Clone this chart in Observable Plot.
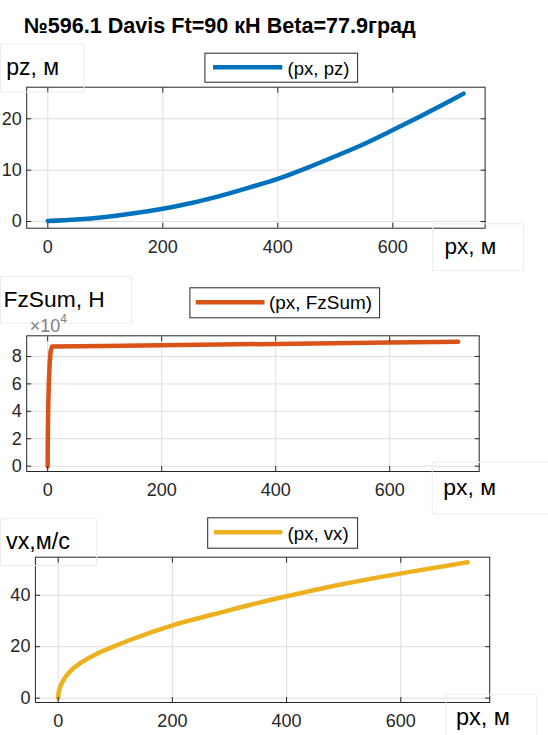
<!DOCTYPE html>
<html><head><meta charset="utf-8">
<script src="https://cdn.jsdelivr.net/npm/d3@7"></script>
<script src="https://cdn.jsdelivr.net/npm/@observablehq/plot@0.6"></script>
<style>
body{margin:0;background:#fff;}
#wrap{position:relative;width:548px;height:735px;overflow:hidden;background:#fff;font-family:"Liberation Sans",Arial,sans-serif;}
#wrap .pl{position:absolute;left:0;}
#overlay{position:absolute;left:0;top:0;pointer-events:none;}
</style></head><body><div id="wrap"></div>
<script>
// ---- data ----
const titleText = "№596.1 Davis Ft=90 кН Beta=77.9град";
const xTicks = [0, 200, 400, 600];

const pzPx  = [0, 50, 100, 150, 200, 250, 300, 350, 400, 450, 500, 550, 600, 650, 700, 723];
const pzVal = [0.1, 0.4, 0.9, 1.6, 2.5, 3.6, 5.0, 6.6, 8.3, 10.4, 12.7, 15.1, 17.8, 20.6, 23.5, 24.9];
const pzTicks = [0, 10, 20];

const fzPx  = [0, 0.2, 0.8, 2.0, 3.5, 5.2, 7.7, 100, 200, 300, 400, 500, 600, 720];
const fzVal = [0, 20000, 40000, 60000, 75000, 84000, 87300, 87700, 88200, 88700, 89200, 89700, 90200, 90800];
const fzTicks = [0, 20000, 40000, 60000, 80000];

const vxPx  = [0, 0.5, 2, 5, 10, 20, 40, 69, 100, 127, 203, 273, 337, 400, 495, 603, 717];
const vxVal = [0, 1.5, 3.2, 5.2, 7.3, 10.2, 13.8, 17.4, 20.3, 22.7, 28.5, 32.6, 36.3, 39.6, 44.2, 48.6, 52.8];
const vxTicks = [0, 20, 40];

const seriesNames = ["(px, pz)", "(px, FzSum)", "(px, vx)"];
const yLabels = ["pz, м", "FzSum, Н", "vx,м/с"];
const xLabel = "px, м";
const colors = ["#0072BD", "#D95319", "#EDB120"];

const FONT = '"Liberation Sans", Arial, sans-serif';
const wrap = document.getElementById("wrap");

function panel(o) {
  const data = o.xs.map((x, i) => ({x, y: o.ys[i]}));
  const axisCol = "#262626";
  const p = Plot.plot({
    width: 548, height: o.height,
    marginTop: o.mt, marginBottom: o.mb, marginLeft: o.ml, marginRight: o.mr,
    style: {fontFamily: FONT, fontSize: "18px", color: axisCol, background: "transparent", overflow: "visible"},
    x: {domain: o.xDomain, label: null},
    y: {domain: o.yDomain, label: null},
    marks: [
      Plot.gridX(xTicks, {stroke: "#dedede", strokeOpacity: 1}),
      Plot.gridY(o.yTicks, {stroke: "#dedede", strokeOpacity: 1}),
      Plot.line(data, {x: "x", y: "y", stroke: o.color, strokeWidth: 4.5, curve: o.curve}),
      Plot.frame({stroke: axisCol}),
      Plot.axisX(xTicks, {anchor: "bottom", tickSize: 5, insetBottom: 5, tickPadding: 12, label: null, fill: axisCol}),
      Plot.axisX(xTicks, {anchor: "top", tickSize: 5, insetTop: 5, tickFormat: () => "", label: null}),
      Plot.axisY(o.yTicks, {anchor: "left", tickSize: 5, insetLeft: 5, tickPadding: 5, tickFormat: o.yFmt, label: null, fill: axisCol}),
      Plot.axisY(o.yTicks, {anchor: "right", tickSize: 5, insetRight: 5, tickFormat: () => "", label: null})
    ]
  });
  p.classList.add("pl");
  p.style.top = o.top + "px";
  wrap.appendChild(p);
}

panel({top: 76, height: 185, mt: 10.7, mb: 33.3, ml: 26.2, mr: 63.4,
  xDomain: [-36.7, 760.5], yDomain: [-1.3, 26.15], yTicks: pzTicks, yFmt: d => d,
  xs: pzPx, ys: pzVal, color: colors[0], curve: "monotone-x"});
panel({top: 325, height: 180, mt: 10.3, mb: 34, ml: 26.2, mr: 69.3,
  xDomain: [-36.8, 757], yDomain: [-3900, 95100], yTicks: fzTicks, yFmt: d => d / 10000,
  xs: fzPx, ys: fzVal, color: colors[1], curve: "linear"});
panel({top: 546, height: 189, mt: 10.7, mb: 33, ml: 34.9, mr: 58.8,
  xDomain: [-39.9, 755.7], yDomain: [-1.7, 54.8], yTicks: vxTicks, yFmt: d => d,
  xs: vxPx, ys: vxVal, color: colors[2], curve: "monotone-x"});

// ---- overlay: title, labels, legends ----
const ov = d3.select(wrap).append("svg").attr("id", "overlay")
  .attr("width", 548).attr("height", 735)
  .style("font-family", FONT);

function fitText(sel, target, size) {
  const w = sel.node().getComputedTextLength();
  let s = w > 0 ? size * target / w : size;
  s = Math.max(size * 0.85, Math.min(size * 1.15, s));
  sel.attr("font-size", s);
  sel.attr("textLength", target).attr("lengthAdjust", "spacingAndGlyphs");
}

const title = ov.append("text").attr("x", 23.8).attr("y", 33)
  .attr("font-size", 20).attr("font-weight", "bold").attr("fill", "#000").text(titleText);
fitText(title, 392, 20);

const boxes = [
  {x: 0, y: 43.5, w: 83.5, h: 48.2, t: yLabels[0], tx: 6.2, ty: 75, tw: 53},
  {x: 432.2, y: 223.3, w: 90.8, h: 46.7, t: xLabel, tx: 444.4, ty: 254, tw: 51.8},
  {x: 0, y: 276, w: 131, h: 46.7, t: yLabels[1], tx: 3.5, ty: 306.7, tw: 101.3},
  {x: 431.7, y: 461.7, w: 120, h: 51.6, t: xLabel, tx: 443.3, ty: 494.5, tw: 52.7},
  {x: 0, y: 518.3, w: 96.2, h: 46.7, t: yLabels[2], tx: 6, ty: 549.3, tw: 64},
  {x: 445.5, y: 694.3, w: 90.8, h: 50, t: xLabel, tx: 456, ty: 725, tw: 54}
];
for (const b of boxes) {
  ov.append("rect").attr("x", b.x + 0.5).attr("y", b.y + 0.5).attr("width", b.w).attr("height", b.h)
    .attr("fill", "none").attr("stroke", "#ededed");
  const t = ov.append("text").attr("x", b.tx).attr("y", b.ty).attr("font-size", 22.5).attr("fill", "#000").text(b.t);
  fitText(t, b.tw, 22.5);
}

const legends = [
  {x: 204.4, y: 52.7, w: 152.7, h: 29, lx1: 213, lx2: 282.3, ly: 67.3, tx: 287.6, ty: 74.5, tw: 61.8},
  {x: 189.4, y: 287.3, w: 189.7, h: 30, lx1: 195.7, lx2: 264.5, ly: 302.3, tx: 269, ty: 308.9, tw: 103},
  {x: 207.2, y: 517.3, w: 149.9, h: 30.4, lx1: 213.8, lx2: 282.3, ly: 532.3, tx: 287.6, ty: 539.5, tw: 61}
];
legends.forEach((l, i) => {
  ov.append("rect").attr("x", l.x + 0.5).attr("y", l.y + 0.5).attr("width", l.w).attr("height", l.h)
    .attr("fill", "#fff").attr("stroke", "#262626");
  ov.append("line").attr("x1", l.lx1).attr("x2", l.lx2).attr("y1", l.ly).attr("y2", l.ly)
    .attr("stroke", colors[i]).attr("stroke-width", 4.5);
  const t = ov.append("text").attr("x", l.tx).attr("y", l.ty).attr("font-size", 18).attr("fill", "#000").text(seriesNames[i]);
  fitText(t, l.tw, 18);
});

// exponent label for FzSum axis
const ex = ov.append("text").attr("x", 29.7).attr("y", 331.5).attr("font-size", 18).attr("fill", "#808080");
ex.append("tspan").text("×10");
ex.append("tspan").attr("dy", -8.5).attr("font-size", 12).text("4");
</script>
</body></html>
